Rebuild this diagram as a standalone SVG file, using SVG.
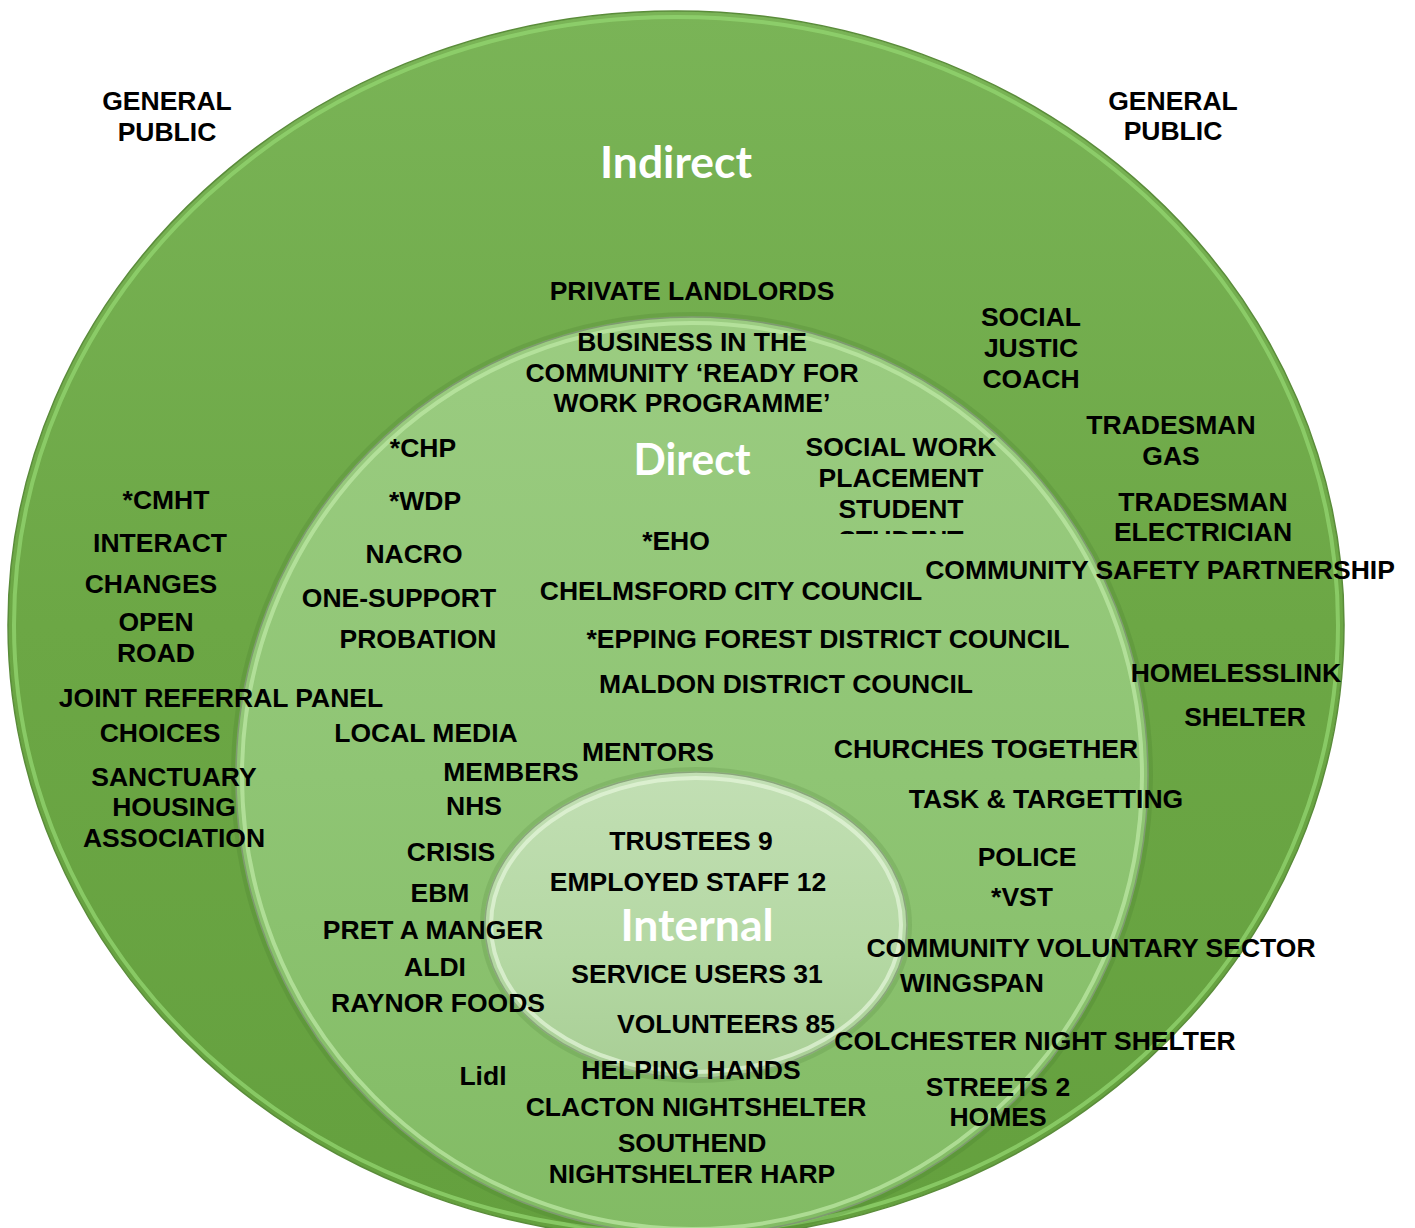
<svg xmlns="http://www.w3.org/2000/svg" width="1415" height="1228" viewBox="0 0 1415 1228">
<style>
.t{font-family:"Liberation Sans",Arial,sans-serif;font-weight:bold;font-size:26.5px;fill:#000;text-anchor:middle}
.h{font-family:Lato,"Open Sans",sans-serif;font-weight:bold;font-size:44px;fill:#fff;text-anchor:middle}
</style>
<defs>
<linearGradient id="gOuter" x1="0" y1="0" x2="0" y2="1">
<stop offset="0" stop-color="#7ab457"/>
<stop offset="0.5" stop-color="#6ca745"/>
<stop offset="1" stop-color="#64a03e"/>
</linearGradient>
<linearGradient id="gMid" x1="0" y1="0" x2="0" y2="1">
<stop offset="0" stop-color="#9bcc81"/>
<stop offset="0.5" stop-color="#8fc574"/>
<stop offset="1" stop-color="#82bb64"/>
</linearGradient>
<linearGradient id="gIn" x1="0" y1="0" x2="0" y2="1">
<stop offset="0" stop-color="#c2dfb4"/>
<stop offset="0.6" stop-color="#b4d8a3"/>
<stop offset="1" stop-color="#a8ce95"/>
</linearGradient>
<clipPath id="clipSW"><rect x="780" y="420" width="250" height="114"/></clipPath>
</defs>

<g id="shapes">
<g id="ring-indirect">
<ellipse cx="676" cy="625" rx="668" ry="614" fill="url(#gOuter)" stroke="#5a8c3a" stroke-width="1.5"/>
<ellipse cx="676" cy="625" rx="662" ry="608" fill="none" stroke="#93d670" stroke-width="4" stroke-opacity="0.75"/>
</g>
<g id="ring-direct">
<ellipse cx="692" cy="776" rx="459" ry="462" fill="none" stroke="#3f6e28" stroke-width="4" stroke-opacity="0.18"/>
<ellipse cx="692" cy="776" rx="456" ry="459" fill="url(#gMid)" stroke="#7e9a70" stroke-width="1.5"/>
<ellipse cx="692" cy="776" rx="450" ry="453" fill="none" stroke="#bfeaa6" stroke-width="4" stroke-opacity="0.7"/>
</g>
<g id="ring-internal">
<ellipse cx="696" cy="925" rx="214" ry="156" fill="none" stroke="#3f6e28" stroke-width="4" stroke-opacity="0.15"/>
<ellipse cx="696" cy="925" rx="211" ry="153" fill="url(#gIn)" stroke="#8aa67c" stroke-width="1.5"/>
<ellipse cx="696" cy="925" rx="205" ry="147" fill="none" stroke="#e6f6dc" stroke-width="4" stroke-opacity="0.7"/>
</g>
</g>

<g id="titles">
<text class="h" x="676" y="178" textLength="152" lengthAdjust="spacingAndGlyphs">Indirect</text>
<text class="h" x="692" y="475" textLength="117" lengthAdjust="spacingAndGlyphs">Direct</text>
<text class="h" x="697" y="941" textLength="153" lengthAdjust="spacingAndGlyphs">Internal</text>
</g>

<g id="general-public">
<text class="t" x="167" y="110"><tspan x="167">GENERAL</tspan><tspan x="167" y="141">PUBLIC</tspan></text>
<text class="t" x="1173" y="110"><tspan x="1173">GENERAL</tspan><tspan x="1173" y="140">PUBLIC</tspan></text>
</g>

<g id="indirect-labels">
<text class="t" x="692" y="300">PRIVATE LANDLORDS</text>
<text class="t" x="1031" y="326"><tspan x="1031">SOCIAL</tspan><tspan x="1031" y="357">JUSTIC</tspan><tspan x="1031" y="388">COACH</tspan></text>
<text class="t" x="1171" y="434"><tspan x="1171">TRADESMAN</tspan><tspan x="1171" y="465">GAS</tspan></text>
<text class="t" x="1203" y="511"><tspan x="1203">TRADESMAN</tspan><tspan x="1203" y="541">ELECTRICIAN</tspan></text>
<text class="t" x="166" y="509">*CMHT</text>
<text class="t" x="160" y="552">INTERACT</text>
<text class="t" x="151" y="593">CHANGES</text>
<text class="t" x="156" y="631"><tspan x="156">OPEN</tspan><tspan x="156" y="662">ROAD</tspan></text>
<text class="t" x="1160" y="579">COMMUNITY SAFETY PARTNERSHIP</text>
<text class="t" x="1236" y="682">HOMELESSLINK</text>
<text class="t" x="1245" y="726">SHELTER</text>
<text class="t" x="221" y="707">JOINT REFERRAL PANEL</text>
<text class="t" x="160" y="742">CHOICES</text>
<text class="t" x="174" y="786"><tspan x="174">SANCTUARY</tspan><tspan x="174" y="816">HOUSING</tspan><tspan x="174" y="847">ASSOCIATION</tspan></text>
</g>

<g id="direct-labels">
<text class="t" x="692" y="351"><tspan x="692">BUSINESS IN THE</tspan><tspan x="692" y="382">COMMUNITY ‘READY FOR</tspan><tspan x="692" y="412">WORK PROGRAMME’</tspan></text>
<text class="t" x="423" y="457">*CHP</text>
<text class="t" x="425" y="510">*WDP</text>
<g clip-path="url(#clipSW)">
<text class="t" x="901" y="456"><tspan x="901">SOCIAL WORK</tspan><tspan x="901" y="487">PLACEMENT</tspan><tspan x="901" y="518">STUDENT</tspan><tspan x="901" y="549">STUDENT</tspan></text>
</g>
<text class="t" x="676" y="550">*EHO</text>
<text class="t" x="414" y="563">NACRO</text>
<text class="t" x="399" y="607">ONE-SUPPORT</text>
<text class="t" x="731" y="600">CHELMSFORD CITY COUNCIL</text>
<text class="t" x="418" y="648">PROBATION</text>
<text class="t" x="828" y="648">*EPPING FOREST DISTRICT COUNCIL</text>
<text class="t" x="786" y="693">MALDON DISTRICT COUNCIL</text>
<text class="t" x="426" y="742">LOCAL MEDIA</text>
<text class="t" x="648" y="761">MENTORS</text>
<text class="t" x="986" y="758">CHURCHES TOGETHER</text>
<text class="t" x="511" y="781">MEMBERS</text>
<text class="t" x="474" y="815">NHS</text>
<text class="t" x="1046" y="808">TASK &amp; TARGETTING</text>
<text class="t" x="451" y="861">CRISIS</text>
<text class="t" x="1027" y="866">POLICE</text>
<text class="t" x="440" y="902">EBM</text>
<text class="t" x="1022" y="906">*VST</text>
<text class="t" x="433" y="939">PRET A MANGER</text>
<text class="t" x="1091" y="957">COMMUNITY VOLUNTARY SECTOR</text>
<text class="t" x="435" y="976">ALDI</text>
<text class="t" x="972" y="992">WINGSPAN</text>
<text class="t" x="438" y="1012">RAYNOR FOODS</text>
<text class="t" x="1035" y="1050">COLCHESTER NIGHT SHELTER</text>
<text class="t" x="483" y="1085">Lidl</text>
<text class="t" x="691" y="1079">HELPING HANDS</text>
<text class="t" x="998" y="1096"><tspan x="998">STREETS 2</tspan><tspan x="998" y="1126">HOMES</tspan></text>
<text class="t" x="696" y="1116">CLACTON NIGHTSHELTER</text>
<text class="t" x="692" y="1152"><tspan x="692">SOUTHEND</tspan><tspan x="692" y="1183">NIGHTSHELTER HARP</tspan></text>
</g>

<g id="internal-labels">
<text class="t" x="691" y="850">TRUSTEES 9</text>
<text class="t" x="688" y="891">EMPLOYED STAFF 12</text>
<text class="t" x="697" y="983">SERVICE USERS 31</text>
<text class="t" x="726" y="1033">VOLUNTEERS 85</text>
</g>
</svg>
